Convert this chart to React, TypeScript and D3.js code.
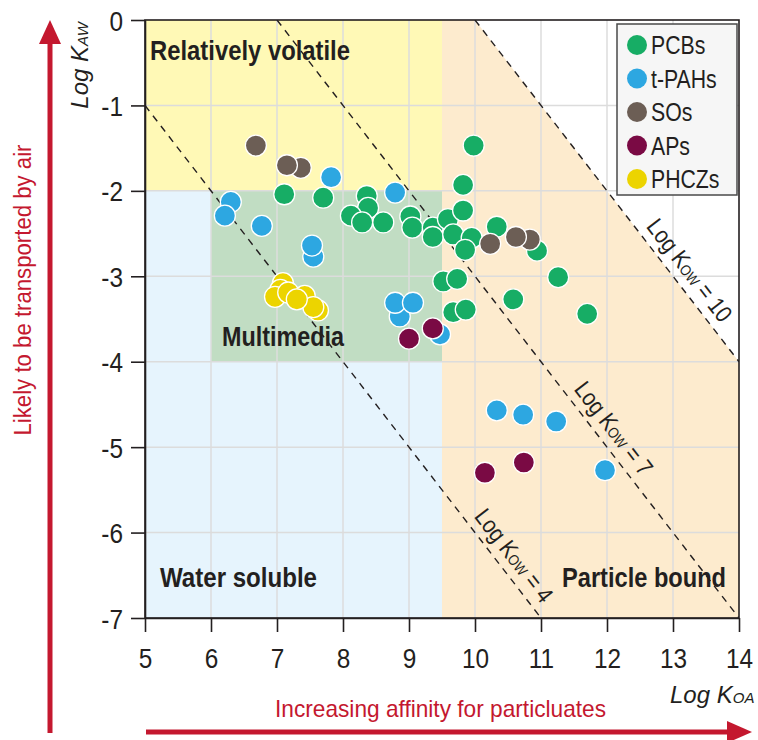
import React, { useEffect, useRef } from 'react';
import * as d3 from 'd3';

// axis ticks
const xTicks = [5, 6, 7, 8, 9, 10, 11, 12, 13, 14];
const yTicks = [0, -1, -2, -3, -4, -5, -6, -7];

// [log KOA, log KAW]
const pcbs: [number, number][] = [
  [7.11, -2.04], [7.70, -2.08], [8.36, -2.06], [8.38, -2.20], [8.12, -2.29],
  [8.29, -2.37], [8.61, -2.37], [9.02, -2.30], [9.05, -2.43], [9.36, -2.43],
  [9.36, -2.54], [9.59, -2.33], [9.67, -2.51], [9.82, -2.23], [9.82, -1.93],
  [9.98, -1.47], [9.95, -2.55], [9.85, -2.69], [10.33, -2.42], [10.94, -2.70],
  [11.26, -3.01], [9.52, -3.06], [9.73, -3.03], [9.67, -3.42], [9.86, -3.39],
  [10.58, -3.27], [11.70, -3.44],
];
const tpahs: [number, number][] = [
  [7.82, -1.84], [8.79, -2.02], [6.30, -2.13], [6.21, -2.29], [6.77, -2.41],
  [7.55, -2.77], [7.53, -2.64], [8.86, -3.47], [8.79, -3.31], [9.06, -3.31],
  [9.47, -3.68], [10.33, -4.57], [10.73, -4.62], [11.23, -4.70], [11.97, -5.27],
];
const sos: [number, number][] = [
  [6.68, -1.47], [7.36, -1.73], [7.15, -1.70], [10.83, -2.57], [10.23, -2.62], [10.62, -2.54],
];
const aps: [number, number][] = [
  [9.00, -3.73], [9.36, -3.61], [10.15, -5.30], [10.74, -5.18],
];
const phczs: [number, number][] = [
  [7.09, -3.08], [7.05, -3.16], [6.97, -3.24], [7.17, -3.19],
  [7.42, -3.23], [7.62, -3.40], [7.55, -3.36], [7.30, -3.27],
];

const seriesNames = ['PCBs', 't-PAHs', 'SOs', 'APs', 'PHCZs'];
const seriesColors = ['#17ad65', '#2da7e1', '#6c5e55', '#7a0a44', '#ecd400'];
const seriesData = [pcbs, tpahs, sos, aps, phczs];

// iso-KOW lines: log KAW = log KOW - log KOA
const kowValues = [4, 7, 10];
const kowLabelAt = [10.39, 11.9, 13.05];

const FONT = "'Liberation Sans', Arial, Helvetica, sans-serif";
const INK = '#231f20';
const RED = '#c4182f';

const App: React.FC = () => {
  const svgRef = useRef<SVGSVGElement>(null);
  const width = 758;
  const height = 740;

  useEffect(() => {
    if (!svgRef.current) return;
    document.body.style.margin = '0';
    const svg = d3.select(svgRef.current);
    svg.selectAll('*').remove();

    const x = d3.scaleLinear().domain([5, 14]).range([145, 739]);
    const y = d3.scaleLinear().domain([0, -7]).range([20, 618]);

    svg.append('defs').append('clipPath').attr('id', 'plot')
      .append('rect')
      .attr('x', x(5)).attr('y', y(0))
      .attr('width', x(14) - x(5)).attr('height', y(-7) - y(0));

    const plot = svg.append('g').attr('clip-path', 'url(#plot)');

    // region backgrounds
    const rect = (x0: number, x1: number, y0: number, y1: number, fill: string) =>
      plot.append('rect')
        .attr('x', x(x0)).attr('y', y(y0))
        .attr('width', x(x1) - x(x0)).attr('height', y(y1) - y(y0))
        .attr('fill', fill);
    rect(5, 9.5, 0, -2, '#fff9b6');
    rect(5, 9.5, -2, -7, '#e6f4fd');
    rect(6, 9.5, -2, -4, '#c1ddc3');

    const orange: [number, number][] = [[9.5, 0], [10, 0], [14, -4], [14, -7], [9.5, -7]];
    plot.append('path')
      .attr('d', d3.line()(orange.map(d => [x(d[0]), y(d[1])]) as [number, number][]) + 'Z')
      .attr('fill', '#fdebce');

    // grid
    plot.selectAll('.gx').data(xTicks.slice(1, -1)).enter().append('line')
      .attr('x1', d => x(d)).attr('x2', d => x(d))
      .attr('y1', y(0)).attr('y2', y(-7))
      .attr('stroke', '#dcdcdc').attr('stroke-width', 1.5);
    plot.selectAll('.gy').data(yTicks.slice(1, -1)).enter().append('line')
      .attr('y1', d => y(d)).attr('y2', d => y(d))
      .attr('x1', x(5)).attr('x2', x(14))
      .attr('stroke', '#dcdcdc').attr('stroke-width', 1.5);

    // KOW dashed lines
    kowValues.forEach(k => {
      const k0 = Math.max(5, k);
      const k1 = Math.min(14, k + 7);
      plot.append('line')
        .attr('x1', x(k0)).attr('y1', y(k - k0))
        .attr('x2', x(k1)).attr('y2', y(k - k1))
        .attr('stroke', INK).attr('stroke-width', 1.4)
        .attr('stroke-dasharray', '7,6');
    });

    const angle = Math.atan2(y(-1) - y(0), x(6) - x(5));
    const deg = (angle * 180) / Math.PI;
    kowValues.forEach((k, i) => {
      const koa = kowLabelAt[i];
      const px = x(koa) + 17 * Math.sin(angle);
      const py = y(k - koa) - 17 * Math.cos(angle);
      const t = svg.append('text')
        .attr('transform', `translate(${px},${py}) rotate(${deg}) scale(0.86,1)`)
        .attr('text-anchor', 'middle').attr('dy', '0.35em')
        .style('font-family', FONT).style('font-size', '24px').style('fill', INK);
      t.append('tspan').text('Log K');
      t.append('tspan').style('font-size', '15px').text('OW');
      t.append('tspan').text(` = ${k}`);
    });

    // region labels
    const regionLabel = (txt: string, lx: number, ly: number, len: number) =>
      svg.append('text').attr('x', lx).attr('y', ly)
        .attr('textLength', len).attr('lengthAdjust', 'spacingAndGlyphs')
        .style('font-family', FONT).style('font-size', '28px')
        .style('font-weight', 'bold').style('fill', INK)
        .text(txt);
    regionLabel('Relatively volatile', 150, 60, 200);
    regionLabel('Multimedia', 222, 346, 122);
    regionLabel('Water soluble', 160, 587, 157);
    regionLabel('Particle bound', 562, 587, 164);

    // points
    seriesData.forEach((pts, i) => {
      svg.append('g').selectAll('circle').data(pts).enter().append('circle')
        .attr('cx', d => x(d[0])).attr('cy', d => y(d[1]))
        .attr('r', 10.5)
        .attr('fill', seriesColors[i])
        .attr('stroke', '#ffffff').attr('stroke-width', 1.3);
    });

    // legend
    const lg = svg.append('g');
    lg.append('rect').attr('x', 617).attr('y', 24).attr('width', 120).attr('height', 171)
      .attr('fill', '#f6f6f6').attr('stroke', '#4a4a4a').attr('stroke-width', 1.5);
    seriesNames.forEach((name, i) => {
      const cy = 45 + i * 33.5;
      lg.append('circle').attr('cx', 637).attr('cy', cy).attr('r', 10).attr('fill', seriesColors[i]);
      lg.append('text')
        .attr('transform', `translate(651,${cy + 9}) scale(0.85,1)`)
        .style('font-family', FONT).style('font-size', '25px').style('fill', INK)
        .text(name);
    });

    // frame
    svg.append('rect').attr('x', x(5)).attr('y', y(0))
      .attr('width', x(14) - x(5)).attr('height', y(-7) - y(0))
      .attr('fill', 'none').attr('stroke', INK).attr('stroke-width', 1.6);

    // axes
    const xAxis = svg.append('g').attr('transform', `translate(0,${y(-7)})`)
      .call(d3.axisBottom(x).tickValues(xTicks).tickSize(14).tickSizeOuter(0).tickFormat(d => String(d)));
    const yAxis = svg.append('g').attr('transform', `translate(${x(5)},0)`)
      .call(d3.axisLeft(y).tickValues(yTicks).tickSize(14).tickSizeOuter(0).tickFormat(d => String(d)));
    [xAxis, yAxis].forEach(a => {
      a.select('.domain').attr('stroke', INK).attr('stroke-width', 1.6);
      a.selectAll('.tick line').attr('stroke', INK).attr('stroke-width', 1.6);
      a.selectAll('.tick text')
        .style('font-family', FONT).style('font-size', '28px').style('fill', INK);
    });
    xAxis.selectAll('.tick text').attr('y', 50).attr('dy', null).attr('transform', 'scale(0.87,1)');
    yAxis.selectAll('.tick text').attr('x', -22 / 0.87).attr('dy', '0.36em').attr('transform', 'scale(0.87,1)');

    // axis titles
    const yt = svg.append('text')
      .attr('transform', 'translate(88,22) rotate(-90)')
      .attr('text-anchor', 'end')
      .style('font-family', FONT).style('font-size', '24px').style('font-style', 'italic').style('fill', INK);
    yt.append('tspan').text('Log K');
    yt.append('tspan').style('font-size', '15px').text('AW');

    const xt = svg.append('text').attr('x', 670).attr('y', 703)
      .style('font-family', FONT).style('font-size', '24px').style('font-style', 'italic').style('fill', INK);
    xt.append('tspan').text('Log K');
    xt.append('tspan').style('font-size', '15px').text('OA');

    // red arrows and captions
    svg.append('rect').attr('x', 47.5).attr('y', 40).attr('width', 5).attr('height', 693).attr('fill', RED);
    svg.append('path').attr('d', 'M50,20 L61,44 L39,44 Z').attr('fill', RED);
    svg.append('rect').attr('x', 146).attr('y', 729.5).attr('width', 585).attr('height', 5).attr('fill', RED);
    svg.append('path').attr('d', 'M752,732 L727,721 L727,743 Z').attr('fill', RED);

    svg.append('text')
      .attr('transform', 'translate(31,290) rotate(-90)')
      .attr('text-anchor', 'middle')
      .attr('textLength', 291).attr('lengthAdjust', 'spacingAndGlyphs')
      .style('font-family', FONT).style('font-size', '23px').style('fill', RED)
      .text('Likely to be transported by air');

    svg.append('text').attr('x', 275).attr('y', 717)
      .attr('textLength', 331).attr('lengthAdjust', 'spacingAndGlyphs')
      .style('font-family', FONT).style('font-size', '24px').style('fill', RED)
      .text('Increasing affinity for particluates');
  }, []);

  return <svg ref={svgRef} width={width} height={height} style={{ display: 'block' }} />;
};

export default App;
